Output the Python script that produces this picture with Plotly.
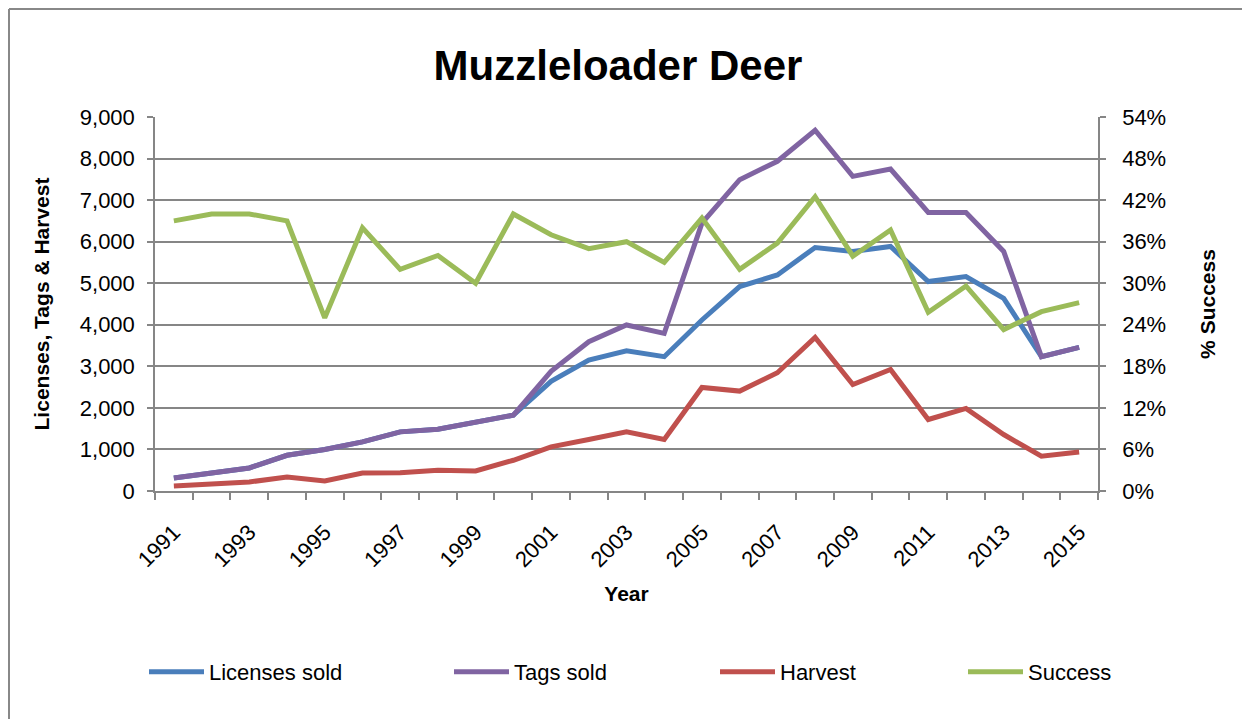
import numpy as np
import plotly.graph_objects as go

years = list(range(1991, 2016))
licenses_sold = [313, 434, 555, 860, 997, 1182, 1423, 1487, 1664, 1825,
                 2640, 3150, 3376, 3232, 4116, 4920, 5200, 5860, 5764, 5884,
                 5040, 5161, 4638, 3232, 3457]
tags_sold = [313, 434, 555, 860, 997, 1182, 1423, 1487, 1664, 1825,
             2880, 3593, 3995, 3794, 6447, 7492, 7934, 8682, 7572, 7749,
             6704, 6700, 5764, 3232, 3457]
harvest = [120, 177, 217, 338, 241, 434, 442, 498, 482, 740,
           1061, 1238, 1423, 1238, 2492, 2404, 2846, 3698, 2564, 2926,
           1720, 1986, 1359, 836, 941]
success_pct = [39.0, 40.0, 40.0, 39.0, 25.0, 38.0, 32.0, 34.0, 30.0, 40.0,
               37.0, 35.0, 36.0, 33.0, 39.4, 32.0, 35.8, 42.5, 33.9, 37.7,
               25.8, 29.6, 23.3, 25.9, 27.2]
year_labels = [str(y) for y in range(1991, 2016, 2)]

BLUE = "#4A7EBB"
PURPLE = "#8064A2"
RED = "#C0504D"
GREEN = "#9BBB59"
GRID = "#868686"
FONT = "Liberation Sans, Arial, sans-serif"

fig = go.Figure()
fig.add_trace(go.Scatter(x=years, y=licenses_sold, name="Licenses sold", mode="lines",
                         line=dict(color=BLUE, width=5), legend="legend", showlegend=True))
fig.add_trace(go.Scatter(x=years, y=tags_sold, name="Tags sold", mode="lines",
                         line=dict(color=PURPLE, width=5), legend="legend2", showlegend=True))
fig.add_trace(go.Scatter(x=years, y=harvest, name="Harvest", mode="lines",
                         line=dict(color=RED, width=5), legend="legend3", showlegend=True))
fig.add_trace(go.Scatter(x=years, y=success_pct, name="Success", mode="lines",
                         line=dict(color=GREEN, width=5), yaxis="y2", legend="legend4", showlegend=True))

# page body has an 8px margin: work in screen pixels, shift by OFF
OFF = 8
SW, SH = 1250, 719
W, H = SW - OFF, SH - OFF
L, R, T, B = 155 - OFF, SW - 1098, 117 - OFF, SH - 491
pw, ph = W - L - R, H - T - B

def px_x(p):
    return (p - OFF - L) / pw

def px_y(p):
    return (H - B - (p - OFF)) / ph

leg_common = dict(orientation="h", xanchor="left", yanchor="middle",
                  font=dict(family=FONT, size=22, color="#000000"),
                  bgcolor="rgba(0,0,0,0)", itemwidth=55)

fig.update_layout(
    width=W, height=H,
    showlegend=True,
    margin=dict(l=L, r=R, t=T, b=B),
    paper_bgcolor="white", plot_bgcolor="white",
    title=dict(text="<b>Muzzleloader Deer</b>", font=dict(family=FONT, size=42, color="#000000"),
               x=px_x(618), xref="paper", xanchor="center",
               y=1 - (65 - OFF) / H, yref="container", yanchor="middle"),
    legend=dict(x=px_x(144), y=px_y(672), **leg_common),
    legend2=dict(x=px_x(449), y=px_y(672), **leg_common),
    legend3=dict(x=px_x(715), y=px_y(672), **leg_common),
    legend4=dict(x=px_x(963), y=px_y(672), **leg_common),
    xaxis=dict(
        range=[1990.5, 2015.5],
        tickmode="array", tickvals=list(range(1991, 2016, 2)), ticktext=year_labels,
        tickangle=-45, ticks="", ticklabelstandoff=18,
        tickfont=dict(family=FONT, size=22, color="#000000"),
        showline=True, linecolor=GRID, linewidth=1.5,
        showgrid=False, zeroline=False,
        minor=dict(tickmode="array", tickvals=list(np.arange(1990.5, 2016, 1.0)),
                   ticks="outside", ticklen=7, tickcolor=GRID, tickwidth=1.5, showgrid=False),
        title=dict(text="<b>Year</b>", font=dict(family=FONT, size=21, color="#000000"), standoff=15),
    ),
    yaxis=dict(
        range=[0, 9000], tickmode="linear", tick0=0, dtick=1000, tickformat=",d",
        ticks="outside", ticklen=6, tickcolor=GRID, tickwidth=1.5, ticklabelstandoff=8,
        tickfont=dict(family=FONT, size=22, color="#000000"),
        showline=True, linecolor=GRID, linewidth=1.5,
        showgrid=True, gridcolor=GRID, gridwidth=1.5, zeroline=False,
        title=dict(text="<b>Licenses, Tags & Harvest</b>", font=dict(family=FONT, size=21, color="#000000"), standoff=24),
    ),
    yaxis2=dict(
        range=[0, 54], tickmode="linear", tick0=0, dtick=6, ticksuffix="%",
        overlaying="y", side="right",
        ticks="outside", ticklen=6, tickcolor=GRID, tickwidth=1.5, ticklabelstandoff=12,
        tickfont=dict(family=FONT, size=22, color="#000000"),
        showline=True, linecolor=GRID, linewidth=1.5,
        showgrid=False, zeroline=False,
        title=dict(text="<b>% Success</b>", font=dict(family=FONT, size=21, color="#000000"), standoff=35),
    ),
    shapes=[
        dict(type="line", xref="paper", yref="paper", x0=px_x(9), x1=px_x(1265), y0=px_y(9), y1=px_y(9),
             line=dict(color="#888888", width=2)),
        dict(type="line", xref="paper", yref="paper", x0=px_x(9), x1=px_x(9), y0=px_y(9), y1=px_y(730),
             line=dict(color="#888888", width=2)),
    ],
)

fig.write_html("out.html")
